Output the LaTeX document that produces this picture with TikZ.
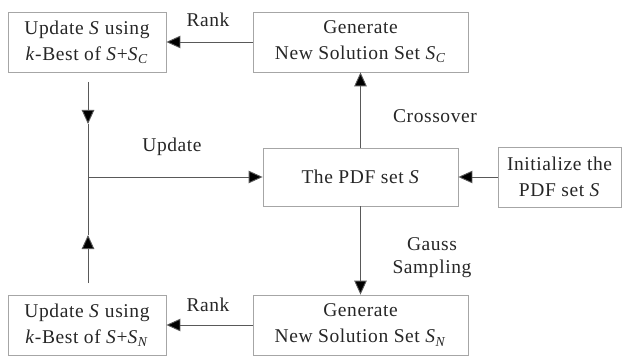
\documentclass[tikz,border=0pt]{standalone}
\usepackage{fontspec}
\setmainfont{Liberation Serif}[LetterSpace=3]
\usetikzlibrary{arrows.meta}
\newcommand\Sv{\textit{S}}
\newcommand\Ssub[1]{\textit{S}\textsubscript{\textit{#1}}}
\begin{document}
\begin{tikzpicture}[x=1pt,y=-1pt,
  box/.style={draw=black!35, line width=0.8pt, inner sep=0pt, align=center,
    font=\fontsize{19.5}{26}\selectfont, text=black!85},
  lbl/.style={inner sep=0pt, align=center, font=\fontsize{19.5}{23}\selectfont, text=black!85},
  conn/.style={draw=black!65, line width=0.9pt},
  arr/.style={conn, -{Triangle[length=14pt,width=12.5pt,fill=black]}}]
\useasboundingbox (0,0) rectangle (623,358);
\node[box, minimum width=158pt, minimum height=60pt] (tl) at (87,42) {Update \Sv{} using\\\textit{k}-Best of \Sv+\Ssub{C}};
\node[box, minimum width=215pt, minimum height=60pt] (tg) at (360.5,42) {Generate\\New Solution Set \Ssub{C}};
\node[box, minimum width=195pt, minimum height=58pt] (pdf) at (360.5,177) {The PDF set \Sv};
\node[box, minimum width=123pt, minimum height=60pt] (init) at (559.5,177) {Initialize the\\PDF set \Sv};
\node[box, minimum width=158pt, minimum height=60pt] (bl) at (87,325) {Update \Sv{} using\\\textit{k}-Best of \Sv+\Ssub{N}};
\node[box, minimum width=215pt, minimum height=60pt] (bg) at (360.5,325) {Generate\\New Solution Set \Ssub{N}};
\coordinate (jt) at (88,82);
\coordinate (tt) at (88,124);
\coordinate (jn) at (88,177);
\coordinate (tb) at (88,235);
\coordinate (jb) at (88,283);
\draw[arr] (tg.west) -- (tl.east);
\draw[arr] (bg.west) -- (bl.east);
\draw[arr] (pdf.north) -- (tg.south);
\draw[arr] (pdf.south) -- (bg.north);
\draw[arr] (init.west) -- (pdf.east);
\draw[arr] (jt) -- (tt);
\draw[conn] (tt) -- (jn);
\draw[arr] (jb) -- (tb);
\draw[conn] (tb) -- (jn);
\draw[arr] (jn) -- (pdf.west);
\node[lbl] (rk1) at (208,20) {Rank};
\node[lbl] (rk2) at (208,305) {Rank};
\node[lbl] (upd) at (172,147) {Update};
\node[lbl] (cro) at (435,116) {Crossover};
\node[lbl] (gau) at (432,258) {Gauss\\Sampling};
\end{tikzpicture}
\end{document}
